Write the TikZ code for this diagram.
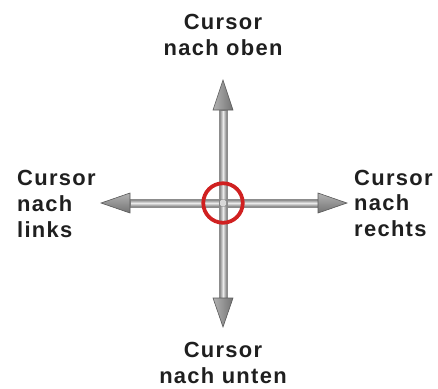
\documentclass[tikz,border=0pt]{standalone}
\usepackage{fontspec}
\setmainfont{Liberation Sans}[LetterSpace=6]
\definecolor{ringred}{RGB}{208,32,32}
\begin{document}
\begin{tikzpicture}[x=1bp,y=-1bp,
  lbl/.style={inner sep=0pt, text=black!88, font=\fontsize{22}{26}\selectfont\bfseries},
  shafth/.style={draw=black!45, line width=0.4pt, top color=black!55, bottom color=black!55, middle color=black!8},
  shaftv/.style={draw=black!45, line width=0.4pt, left color=black!55, right color=black!55, middle color=black!8},
  headv/.style={draw=black!65, line width=0.6pt, left color=black!30, right color=black!55},
  headh/.style={draw=black!65, line width=0.6pt, top color=black!30, bottom color=black!55},
  ring/.style={draw=ringred, line width=3.8pt}]
\useasboundingbox (0,0) rectangle (438,388);
% coordinates
\coordinate (c) at (223,203);
\coordinate (tu) at (223,80);
\coordinate (td) at (223,327);
\coordinate (tl) at (101,203);
\coordinate (tr) at (347,203);
% shafts
\path[shafth] (130,199) rectangle (318,207);
\path[shaftv] (219,110) rectangle (227,298);
% heads
\path[headv] (tu) -- ++(-10,30) -- ++(20,0) -- cycle;
\path[headv] (td) -- ++(-10,-29) -- ++(20,0) -- cycle;
\path[headh] (tl) -- ++(29,-10) -- ++(0,20) -- cycle;
\path[headh] (tr) -- ++(-29,-10) -- ++(0,20) -- cycle;
% ring and centre
\node[ring, circle, minimum size=39.5bp, inner sep=0pt] (ring) at (c) {};
\node[draw=black!60, fill=black!15, minimum size=6.5bp, inner sep=0pt, rounded corners=1bp] (dot) at (c) {};
% labels
\node[lbl, align=center, anchor=north] (up) at (223,14) {Cursor\\nach oben};
\node[lbl, align=center, anchor=north] (down) at (223,342) {Cursor\\nach unten};
\node[lbl, align=left, anchor=north west] (left) at (17,170) {Cursor\\nach\\links};
\node[lbl, align=left, anchor=north west] (right) at (354,169.5) {Cursor\\nach\\rechts};
\end{tikzpicture}
\end{document}
